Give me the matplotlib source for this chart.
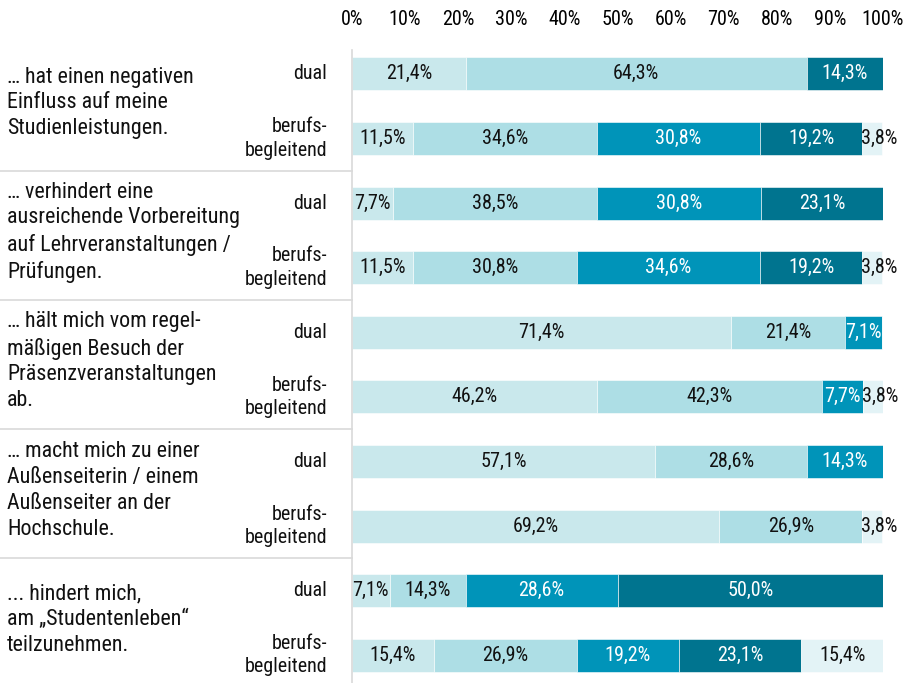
import matplotlib
matplotlib.use("Agg")
import matplotlib.pyplot as plt
import matplotlib.transforms as mtransforms
from matplotlib import font_manager

fams = {f.name for f in font_manager.fontManager.ttflist}
main_font = 'Roboto Condensed' if 'Roboto Condensed' in fams else 'DejaVu Sans'
plt.rcParams['font.family'] = [main_font, 'DejaVu Sans']
if main_font == 'DejaVu Sans':
    plt.rcParams['font.stretch'] = 'condensed'

# Aussagen (Gruppen)
groups = [
    "… hat einen negativen\nEinfluss auf meine\nStudienleistungen.",
    "… verhindert eine\nausreichende Vorbereitung\nauf Lehrveranstaltungen /\nPrüfungen.",
    "… hält mich vom regel-\nmäßigen Besuch der\nPräsenzveranstaltungen\nab.",
    "… macht mich zu einer\nAußenseiterin / einem\nAußenseiter an der\nHochschule.",
    "... hindert mich,\nam „Studentenleben“\nteilzunehmen.",
]
subgroups = ["dual", "berufs-\nbegleitend"]

# Anteile je Balken (dual, berufsbegleitend pro Gruppe), 5 Stufen
s1 = [21.4, 11.5, 7.7, 11.5, 71.4, 46.2, 57.1, 69.2, 7.1, 15.4]
s2 = [64.3, 34.6, 38.5, 30.8, 21.4, 42.3, 28.6, 26.9, 14.3, 26.9]
s3 = [0.0, 30.8, 30.8, 34.6, 7.1, 7.7, 14.3, 0.0, 28.6, 19.2]
s4 = [14.3, 19.2, 23.1, 19.2, 0.0, 0.0, 0.0, 0.0, 50.0, 23.1]
s5 = [0.0, 3.8, 0.0, 3.8, 0.0, 3.8, 0.0, 3.8, 0.0, 15.4]
series = [s1, s2, s3, s4, s5]

colors = ["#c9e8ec", "#addee5", "#0094b9", "#00748f", "#e3f3f6"]
text_colors = ["#111111", "#111111", "white", "white", "#111111"]

W, H = 918, 683
fig = plt.figure(figsize=(W / 100, H / 100), dpi=100)
ax = fig.add_axes([352 / W, 0, 531 / W, 1 - 50 / H])

fs = 14.5
fs_grp = 15.8
n = len(s1)
ypos = list(range(n))
left = [0.0] * n
for vals, col, tcol in zip(series, colors, text_colors):
    ax.barh(ypos, vals, left=left, height=0.51, color=col, edgecolor='white', linewidth=0.4)
    for i, v in enumerate(vals):
        if v <= 0:
            continue
        lbl = f"{v:.1f}%".replace('.', ',')
        if v < 5:
            # kleine Restanteile: Beschriftung ragt rechts aus dem Balken
            ax.text(left[i] - 0.2, i, lbl, ha='left', va='center', fontsize=fs, color='#111111')
        else:
            ax.text(left[i] + v / 2, i, lbl, ha='center', va='center', fontsize=fs, color=tcol)
    left = [l + v for l, v in zip(left, vals)]

ax.set_xlim(0, 100)
ax.set_ylim(9.43, -0.37)
ax.xaxis.tick_top()
ax.set_xticks(range(0, 101, 10))
ax.set_xticklabels([f"{t}%" for t in range(0, 101, 10)], fontsize=fs)
ax.tick_params(axis='x', length=0, pad=15)
ax.set_yticks([])
for sp in ['top', 'right', 'bottom']:
    ax.spines[sp].set_visible(False)
ax.spines['left'].set_color('#d9d9d9')
ax.spines['left'].set_linewidth(1.2)

tr = mtransforms.blended_transform_factory(ax.transAxes, ax.transData)
x_grp = (7 - 352) / 531
x_sub = (327 - 352) / 531
for g, txt in enumerate(groups):
    yc = 2 * g + 0.45
    ax.text(x_grp, yc, txt, transform=tr, ha='left', va='center', fontsize=fs_grp,
            linespacing=1.3, color='#111111')
    ax.text(x_sub, 2 * g, subgroups[0], transform=tr, ha='right', va='center',
            fontsize=fs, color='#111111')
    ax.text(x_sub, 2 * g + 1, subgroups[1], transform=tr, ha='right', va='center',
            fontsize=fs, linespacing=1.3, color='#111111')
    if g > 0:
        ax.plot([-352 / 531, 0], [2 * g - 0.5] * 2, transform=tr, color='#d9d9d9',
                lw=1.2, clip_on=False)

fig.savefig("out.png", dpi=100)
